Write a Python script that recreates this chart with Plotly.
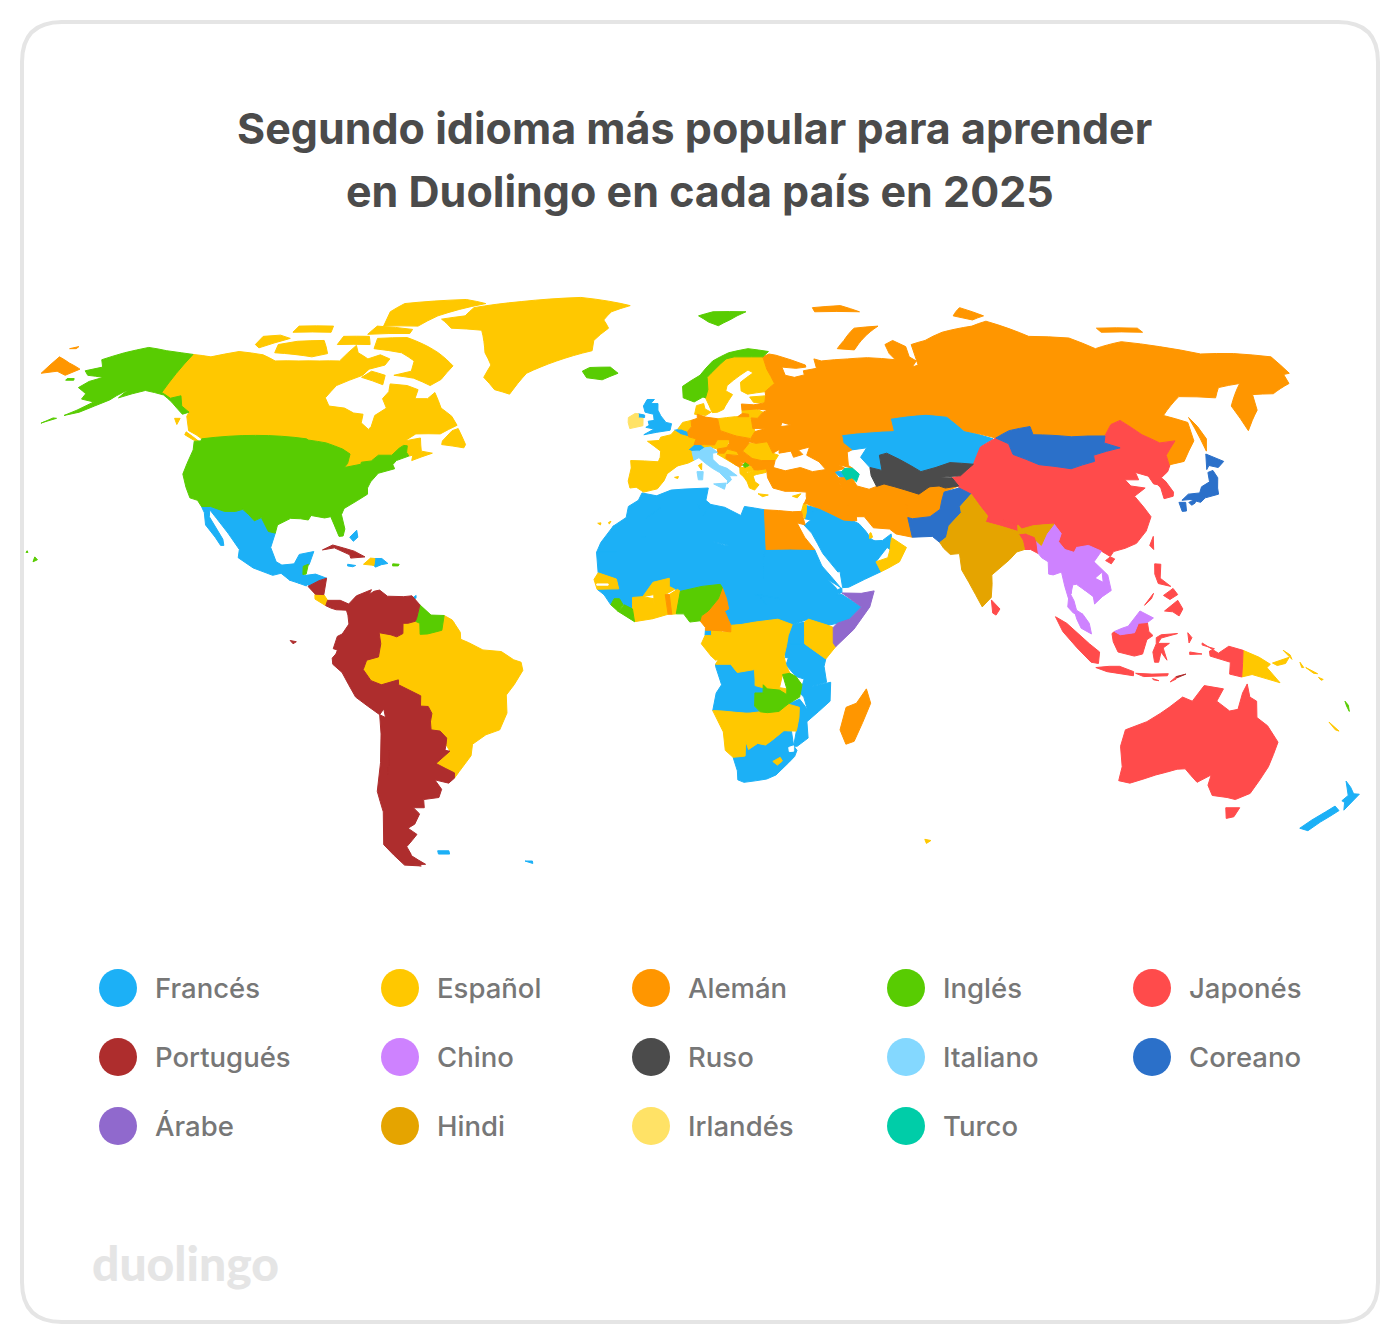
import plotly.graph_objects as go

title_lines = ["Segundo idioma más popular para aprender", "en Duolingo en cada país en 2025"]
languages = ["Francés", "Español", "Alemán", "Inglés", "Japonés",
             "Portugués", "Chino", "Ruso", "Italiano", "Coreano",
             "Árabe", "Hindi", "Irlandés", "Turco"]
colors = ["#1CB0F6", "#FFC800", "#FF9600", "#58CC02", "#FF4B4B",
          "#AE2D2D", "#CE82FF", "#4B4B4B", "#84D8FF", "#2B70C9",
          "#9069CD", "#E5A400", "#FFE266", "#00CDA8"]

frances = ["MEX", "GTM", "HND", "SLV", "DOM", "JAM", "BHS", "TTO", "GBR", "BEL", "CHE", "ARM", "KAZ",
           "SAU", "YEM", "ARE", "JOR", "MAR", "DZA", "TUN", "LBY", "MRT", "MLI", "NER", "TCD", "SDN",
           "SSD", "ERI", "DJI", "ETH", "CAF", "UGA", "TZA", "RWA", "BDI", "MWI", "MOZ", "AGO", "ZAF",
           "GIN", "GNB", "GNQ", "NZL", "FLK"]
espanol = ["CAN", "GRL", "BRA", "FRA", "ESP", "PRT", "DNK", "NLD", "SWE", "FIN", "POL", "LTU", "EST",
           "AUT", "HRV", "ROU", "GRC", "ALB", "MKD", "CYP", "OMN", "QAT", "ISR", "SEN", "CIV", "BFA",
           "GHA", "BEN", "COD", "COG", "GAB", "KEN", "ZWE", "BWA", "NAM", "LSO", "HTI", "CRI", "PNG",
           "SLB", "NCL"]
aleman = ["RUS", "DEU", "CZE", "SVK", "HUN", "LVA", "BLR", "UKR", "MDA", "SRB", "BIH", "MNE", "BGR",
          "SVN", "TUR", "GEO", "IRN", "IRQ", "SYR", "LBN", "KWT", "AFG", "EGY", "CMR", "TGO", "MDG"]
ingles = ["USA", "NOR", "ISL", "NGA", "LBR", "SLE", "ZMB", "GUY", "SUR", "BLZ", "PRI", "XKX", "VUT"]
japones = ["CHN", "TWN", "PRK", "KOR", "IDN", "PHL", "AUS", "BGD", "NPL", "BTN", "LKA"]
portugues = ["COL", "VEN", "ECU", "PER", "BOL", "PRY", "CHL", "ARG", "URY", "CUB", "NIC", "PAN", "TLS"]
chino = ["MMR", "THA", "LAO", "VNM", "KHM", "MYS"]
ruso = ["UZB", "TKM", "KGZ", "TJK"]
italiano = ["ITA"]
coreano = ["MNG", "JPN", "PAK"]
arabe = ["SOM"]
hindi = ["IND"]
irlandes = ["IRL"]
turco = ["AZE"]
by_language = [frances, espanol, aleman, ingles, japones, portugues, chino, ruso,
               italiano, coreano, arabe, hindi, irlandes, turco]
# not coloured in the source map
sin_datos = ["SWZ", "GMB"]

# the cdn topojson can't be fetched here, so the countries are rough lon/lat outlines written by hand
outlines = {
    "USA": ["-124.7 48.4 -123 48.5 -123 49 -95.2 49 -94.6 48.7 -89.6 48 -84.8 46.5 -82.5 45.3 -82.5 43 -83.1 42 -79 42.8 -79 43.3 -76.5 43.6 -75 45 -71.5 45 -70 46.7 -69 47.4 -68 47.3 -67.8 45.7 -67 44.8 -70 43.7 -70.7 42.7 -70 41.7 -74 40.6 -75.5 38.5 -76 37 -75.7 35.5 -77.9 34 -81 32 -81.4 30.5 -80 27 -80.2 25.3 -81.2 25.2 -82.8 28 -84 30 -85.5 29.7 -89 30.3 -89.5 29.2 -91.5 29.5 -94 29.6 -97 28 -97.2 26 -99 26.4 -101.4 29.8 -103 29 -104.7 30.5 -106.5 31.8 -108.2 31.3 -111 31.3 -114.8 32.5 -117.1 32.5 -118.5 34 -120.6 34.6 -122.4 37.2 -124.3 40.4 -124.2 43 -124 46.3",
            "-141 69.6 -141 60.3 -137.5 58.9 -135 59.5 -133 57 -130 55.5 -131.5 55 -134 56.5 -136.5 58 -140 59.7 -146 60.8 -149 60 -152 59 -151 61 -153 59.5 -154 58.5 -157 57 -160 55.5 -163.5 54.7 -161 56 -158 58 -162 58.7 -162 60 -165.5 61.5 -164 63 -161 64 -166 64.5 -168 65.6 -164 66.5 -166.5 68.3 -162 70 -156.5 71.3 -150 70.5 -145 70",
            "-165 54 -168 53 -168.3 52.8 -166 54.1", "-171 63.3 -168.7 63.3 -169 63.7 -171 63.7",
            "-156 19 -155 19.5 -155.8 20.2", "-158.2 21.3 -157.7 21.3 -158 21.7"],
    "CAN": ["-141 69.6 -135 69 -128 70.3 -120 69.5 -115 68 -108 68 -102 68 -96 68 -94 71.8 -92 70 -88 68.5 -85 69.5 -81.5 68.5 -82 67 -86 66 -87 64.5 -93 62 -94.5 59 -92.5 57 -88 56.5 -85 55.3 -82.3 55 -82 52.9 -79.5 51.3 -79 52 -79 54.7 -76.5 56.5 -78.5 58.8 -77.5 60.5 -78 62.4 -73 62 -69.5 61 -69.5 58.8 -66 58.8 -64.5 60.3 -61.5 56.5 -58 54.5 -56 52.3 -60 50.2 -66.5 50.2 -69 48.5 -65 49.2 -64.5 47.5 -64 46 -61 45.5 -66 43.7 -66 45 -67 44.8 -67.8 45.7 -68 47.3 -69 47.4 -70 46.7 -71.5 45 -75 45 -76.5 43.6 -79 43.3 -79 42.8 -83.1 42 -82.5 43 -82.5 45.3 -84.8 46.5 -89.6 48 -94.6 48.7 -95.2 49 -123 49 -125 50 -127.5 51 -130 54.5 -130 55.5 -133 57 -135 59.5 -137.5 58.9 -141 60.3",
            "-80 73.7 -72 71.5 -68 70 -62 66.8 -64 63.5 -66.5 62 -72 63.8 -78 64.5 -73.5 65.5 -74 68 -79 70 -88 71 -89 73.5",
            "-117 70 -105 69 -101 69.8 -105 73 -113 72.8 -118 72", "-125 72 -123 71.2 -116 73.5 -120 74.3 -125 74",
            "-90 76.5 -79 76.5 -75 79 -62 82 -70 83 -90 82 -92 80", "-93 74.5 -80 74.7 -80 75.7 -92 76.5",
            "-117 75 -105 75 -106 76.5 -117 76.5", "-87 64 -80 62.2 -80.5 64.5 -85 65.5", "-100 72 -90 72 -92 74 -100 74",
            "-59 47.6 -53 46.8 -52.7 47.6 -55.5 51.5 -57 51 -59 48.5", "-128 50.7 -123.5 48.4 -125 48.7 -128 50", "-133 54 -131.5 54 -131.5 52.5"],
    "GRL": ["-73 78.2 -68 76 -58 75.5 -54 70 -51 67 -52 64 -48 61 -43.5 59.9 -40 65 -32 68 -22 70.5 -22 73 -18 76 -20 78 -18 80 -12 81.5 -30 83.5 -50 82.5 -65 81 -66 79"],
    "ISL": ["-24 65.5 -22 66.4 -16 66.5 -13.6 65 -18 63.4 -22.5 63.9"],
    "MEX": ["-117.1 32.5 -114.8 32.5 -111 31.3 -108.2 31.3 -106.5 31.8 -104.7 30.5 -103 29 -101.4 29.8 -99 26.4 -97.2 26 -97.8 22.5 -96 19 -94.5 18.2 -91.5 18.5 -90.5 20.8 -87 21.5 -87.8 18.3 -89 17.9 -91 17.8 -91 16.2 -92.2 14.5 -94.5 16.2 -96.5 15.7 -101.5 17.5 -105.5 20 -105.5 22 -109 26 -112.5 29.5 -114.8 31.7 -114.5 30 -112 27 -110 24.5 -109.5 23 -110.3 23 -112 25 -115 28 -116 31"],
    "GTM": ["-92.2 14.5 -91 16.2 -91 17.8 -89.2 17.8 -89 15.8 -88.3 15.7 -89.2 14.5 -90 13.8"],
    "BLZ": ["-89.2 17.9 -88 18.4 -88.3 16 -89.1 15.9"],
    "HND": ["-89.2 14.5 -88.3 15.7 -86 16 -83.2 15 -84.5 14.6 -87 13 -87.6 13.3"],
    "SLV": ["-90 13.8 -89.2 14.5 -87.7 13.8 -88 13.1"],
    "NIC": ["-87.6 13 -85 14.4 -83.2 15 -83.6 11 -85.7 11.1"],
    "CRI": ["-85.8 11 -83.6 11 -82.6 9.6 -83 8.3 -85.7 9.9"],
    "PAN": ["-83 8.3 -82.6 9.6 -79.5 9.6 -77.4 8.7 -77.9 7.2 -80.4 7.3 -81.7 7.7"],
    "CUB": ["-84.9 21.9 -82.5 23.1 -77 21.6 -74.2 20.2 -77.7 19.9 -78 20.7 -82 22.4"],
    "JAM": ["-78.3 18.4 -76.3 18.1 -77 17.8 -78.3 18"],
    "HTI": ["-74.4 18.4 -72.8 19.9 -71.7 19.8 -71.8 18.1 -72.5 18.2"],
    "DOM": ["-71.7 19.8 -70 19.8 -68.4 18.6 -70 18.3 -71.4 17.7 -71.8 18.1"],
    "PRI": ["-67.2 18.5 -65.6 18.4 -65.8 18 -67.2 18"],
    "BHS": ["-78.5 25 -77 26.7 -76.5 25 -77.5 24"],
    "TTO": ["-61.9 10.1 -61 10.8 -61 10.1"],
    "COL": ["-77.9 7.2 -77.4 8.7 -75.6 10.7 -72 12.2 -72.5 11 -72.9 9.5 -72.4 8 -71 7 -67.5 6.2 -67.8 2.8 -67 1.2 -69.8 1.7 -69.4 -1 -70 -4.2 -70.9 -2.5 -73.2 -2 -75.3 -0.2 -77.5 0.4 -78.8 1.4 -77.2 3.8 -77.5 6"],
    "VEN": ["-72.5 11 -71.4 11.8 -70 12.1 -68 10.6 -64 10.5 -62 10.7 -60 8.5 -60.7 5.2 -61 4.5 -62.8 4 -64 4 -64 1.5 -65.5 0.7 -67 1.2 -67.8 2.8 -67.5 6.2 -71 7 -72.4 8 -72.9 9.5"],
    "GUY": ["-60 8.5 -57.2 6 -57.3 5 -58 1.4 -59.8 1.3 -59.9 4 -61 4.5 -60.7 5.2"],
    "SUR": ["-57.2 6 -54 5.9 -54.5 2.3 -56 1.9 -58 1.4 -57.3 5"],
    "BRA": ["-51.6 4.2 -50 1.8 -49.9 0.1 -48 -0.7 -44.5 -2.5 -40 -2.9 -37 -4.9 -35.2 -5.5 -34.8 -7.5 -37 -11 -39 -13.5 -39 -17.9 -41 -22 -44.5 -23.2 -48 -25.5 -48.6 -28.3 -52 -32.2 -53.4 -33.8 -53.2 -32.5 -57.6 -30.2 -53.8 -27.2 -54.6 -25.6 -54.3 -24 -55.4 -24 -55.8 -22.3 -58 -22 -58 -20 -57.5 -18 -58.3 -16.3 -60.2 -16.2 -60 -13.7 -65.3 -11 -65.3 -9.8 -69.5 -11 -72 -10 -73.8 -7.3 -72.9 -5 -70 -4.2 -69.4 -1 -69.8 1.7 -67 1.2 -65.5 0.7 -64 1.5 -64 4 -62.8 4 -61 4.5 -59.9 4 -59.8 1.3 -58 1.4 -56 1.9 -54.5 2.3 -52.7 2.3"],
    "ECU": ["-78.8 1.4 -77.5 0.4 -75.3 -0.2 -75.5 -1.5 -78.3 -3.4 -79 -5 -80.3 -3.4 -80 -2.5 -81 -2.2 -80 0.8", "-91.5 -0.2 -90 -0.5 -90.8 -1"],
    "PER": ["-81.3 -4.5 -80.3 -3.4 -79 -5 -78.3 -3.4 -75.5 -1.5 -75.3 -0.2 -73.2 -2 -70.9 -2.5 -70 -4.2 -72.9 -5 -73.8 -7.3 -72 -10 -69.5 -11 -69 -12.5 -69.5 -15.5 -69 -16.5 -70.4 -18.3 -76 -14 -79 -8 -81.2 -6"],
    "BOL": ["-69.5 -11 -65.3 -9.8 -65.3 -11 -60 -13.7 -60.2 -16.2 -58.3 -16.3 -57.5 -18 -58 -20 -62.3 -22 -67 -23 -69 -19 -69.5 -15.5"],
    "PRY": ["-58 -20 -58 -22 -55.8 -22.3 -54.3 -24 -54.6 -25.6 -55 -27 -58.6 -27.2 -58 -24.5 -62.3 -22"],
    "CHL": ["-70.4 -18.3 -69 -19 -67 -23 -69 -27 -70 -33 -71.2 -38 -71.7 -45 -72.5 -50 -68.4 -52.3 -68.6 -54.9 -66.5 -55.2 -71 -55 -75 -50 -73 -42 -73.5 -37 -71.5 -30 -70.5 -23"],
    "ARG": ["-67 -23 -62.3 -22 -58 -24.5 -58.6 -27.2 -55 -27 -53.8 -27.2 -57.6 -30.2 -58.2 -33 -58.4 -34.2 -57 -36.5 -58 -38.5 -62 -39 -62.2 -41 -65 -41 -63.7 -42.5 -65.5 -45 -67.5 -46 -65.5 -47.5 -69 -50.5 -68.4 -52.3 -72.5 -50 -71.7 -45 -71.2 -38 -70 -33 -69 -27", "-68.4 -52.7 -65.2 -54.8 -68.6 -54.9"],
    "URY": ["-58.2 -33 -57.6 -30.2 -53.2 -32.5 -53.4 -33.8 -55 -35 -58.4 -34.2"],
    "FLK": ["-61 -51.5 -58 -51.5 -58 -52.3 -61 -52.3", "-38 -54 -36 -54 -36 -54.6"],
    "RUS": ["28 59.5 28 60.5 31 62.5 29.5 66 29 69 31 69.7 33 69.4 41 67 41 66.5 38 66.2 34 66.5 34.5 64.5 37 64 40 64.6 40 65.6 44 66.2 44 68.5 46 68 54 68.5 60 68.8 68 68.3 67 69.8 67 72 70 73 73 71.5 72.5 69 74 68 72 66.5 74 67 75 72 80 73 87 75 98 76.5 104 77.7 113 74 125 73.6 130 71 140 72.7 150 71.5 160 69.7 170 69.8 180 69 180 65 178 64.7 177 62.5 170 60 164 59.8 162 56 156 51 155.7 57 163 62.5 156 61.5 153 59 143 59.3 135.5 54.7 141 53 140 48.5 135 43.5 131 42.7 130.7 42.3 131 45 135 48.5 130.7 48 127 50 123 53.5 120 52.5 117 49.7 108 49.5 98 50 98 52 92 51 87.8 49.2 80 51 76.5 54.5 71 55 61 54 61 51 55 50.7 47 50 47 48 49 46.3 47.7 45.7 47.5 42.5 48.5 41.8 45 42.7 40 43.4 37 45 38 47 40 48 40 49.6 35 50.5 34 52.3 31.5 53 32.5 54 31 55.5 28 56 27.5 57.8",
            "-180 69 -175 67.5 -170 66 -172.5 64.5 -176 65.5 -180 65", "142 54.2 143 52 143.6 49 142 46 142 49", "52 71 57 70.7 68 76.5 60 76 55 73",
            "95 79 100 78 105 79 100 81", "137 75 150 75 150 76 137 76", "-180 71 -178 71.5 -178 71", "50 80 65 80 60 81.5 50 81", "19.7 54.4 22.7 54.4 22.7 55 21 55.2"],
    "KAZ": ["47 50 55 50.7 61 51 61 54 71 55 76.5 54.5 80 51 87 49 83 47 80 42.8 74 43.2 70 42 66 41 61 44 58 45.5 56 45 56 41.3 53 42 51 44.5 53 46.8 49 46.3 47 48"],
    "UZB": ["56 45 58 45.5 61 44 66 41 70 42 71 40.5 67.5 37.3 64 39 61 41 56 41.3"],
    "TKM": ["53 42 56 41.3 61 41 64 39 67.5 37.3 64.5 35.5 61 36.6 56 38 54 37.4 53 40"],
    "KGZ": ["70 42 74 43.2 80 42.8 76 40 70 39.5 71 40.5"],
    "TJK": ["67.5 37.3 71 40.5 70 39.5 73.7 39.5 75 37.5 71.5 37 70 37.5"],
    "AFG": ["61 36.6 64.5 35.5 67.5 37.3 70 37.5 71.5 37 75 37.5 71 36 70 33.8 69.3 31.8 66.5 30 62 29.5 60.9 29.8 61 33.5"],
    "IRN": ["44.5 39.5 48 39.5 49 37.5 52 36.7 54 37.4 56 38 61 36.6 61 33.5 60.9 29.8 63 27 61.5 25 57.5 25.8 56 27 52 27.3 50 30 48.5 30 46 33 46 35 45 36.5"],
    "IRQ": ["44.8 37.2 46 35 46 33 48.5 30 47.8 30 47 29 44.7 29.2 39 32 41 34.5 41.3 36.6"],
    "SYR": ["36 36.8 41.3 36.6 41 34.5 39 32 36 33 35.8 35"],
    "LBN": ["35.1 33.1 36 33.3 36.6 34.4 35.9 34.6"],
    "TUR": ["26.2 41.7 28 42 31 41.2 35 42 38 41 41.5 41.5 43.6 41 44.5 39.5 44.8 37.2 41.3 36.6 36 36.8 36 36 33 36.2 30.5 36.2 27.5 37 26.3 39.5"],
    "GEO": ["40 43.4 45 42.7 46.5 41.8 43.6 41 41.5 41.5"],
    "ARM": ["43.6 41 45.5 41 46.5 39 44.8 39.8"],
    "AZE": ["46.5 41.8 48.5 41.8 50 40.4 49 38.5 48 39.5 46.5 39 45.5 41"],
    "PRT": ["-9 37 -7.4 37.2 -7 39 -6.6 41.9 -8.8 41.9 -9.5 38.7"],
    "ESP": ["-9 43.7 -1.8 43.4 3.2 42.4 0.5 40.5 -0.3 38.8 -2 36.8 -5.5 36 -7.4 37.2 -7 39 -6.6 41.9 -8.8 41.9", "2.4 39.6 3.4 39.8 3.2 39.3", "-16.9 28.4 -16.1 28.5 -16.2 28", "-14.2 28.6 -13.6 28.9 -14 28.2"],
    "FRA": ["-1.8 43.4 3.2 42.4 6 43.1 7.5 43.8 7 45.9 6 46.3 7.6 47.6 8.2 49 6.2 49.5 4.2 50 2.5 51 1.5 50 -1.2 49.4 -1.6 48.6 -4.7 48.4 -1.2 46 -1.3 44.5", "8.6 42.5 9.5 43 9.4 41.4", "-54 5.9 -52 4.8 -51.6 4.2 -52.7 2.3 -54.5 2.3", "68.8 -48.7 70.5 -49 69.5 -49.7"],
    "BEL": ["2.5 51.1 4.3 51.4 6 50.8 6.2 49.5 4.2 50"],
    "NLD": ["3.4 51.4 4.7 53 7 53.5 7.1 52 6 50.8 4.3 51.4"],
    "DEU": ["6 50.8 7.1 52 7 53.5 8.7 54 8.7 55 11 54.3 14.2 53.9 14.7 51 12.2 50.3 13.8 48.8 13 47.5 7.6 47.6 8.2 49 6.2 49.5"],
    "CHE": ["6 46.3 7.6 47.6 9.6 47.5 10.4 46.8 9 46 8 46"],
    "ITA": ["7.5 43.8 8.8 44.4 10.5 43 12.2 41.8 14 40.8 16 38.8 15.8 38 17 39 16.5 40 18.5 40 16 41.8 14 42.5 12.4 44 12.4 45.5 13.7 45.7 12 47 10.4 46.8 9 46 8 46 7 45.9", "12.4 38 15.6 38.2 15.1 36.7", "8.2 41 9.8 41 9.6 39 8.5 39"],
    "AUT": ["9.6 47.5 13 47.5 13.8 48.8 17 48.8 16.2 46.9 13.7 46.5 12 47 10.4 46.8"],
    "CZE": ["12.2 50.3 14.7 51 18.8 49.7 17 48.8 13.8 48.8"],
    "POL": ["14.2 53.9 19 54.4 23 54.4 24 50.8 22.7 49.1 18.8 49.7 14.7 51"],
    "LTU": ["21 56 25 56.3 26.7 55.5 25 54 23.3 54.1 21 55.2"],
    "LVA": ["21 57.5 24.4 57.3 27.5 57.8 28 56 25 56.3 21 56"],
    "EST": ["23.5 59.2 28 59.5 27.5 57.8 24.4 57.9"],
    "DNK": ["8 55 8.6 57.1 10.6 57.6 10.9 56.3 12.5 55.5 11 54.7 9.5 54.9"],
    "NOR": ["5 59 4.9 61.8 10 64.5 14 68 19 70 25 71 31 70.3 29 69 25.7 69 20.5 69 18 68.5 14.5 66 12 64 12 61 11.2 59 10.5 59.2 8 58", "11 79 16 80 27 80 21 78 17 76.6 14 77.5"],
    "SWE": ["11.2 59 12 61 12 64 14.5 66 18 68.5 20.5 69 23.7 67.5 24 65.8 21.5 64.5 17.5 62 17 60.7 18.8 59.8 16.5 57 16 56.2 14.3 55.5 12.8 55.4"],
    "FIN": ["20.5 69 25.7 69 29 69 29.5 66 31 62.5 28 60.5 23 59.9 21.3 60.7 21.4 62.8 25.4 65.1 24 65.8 23.7 67.5"],
    "GBR": ["-5.7 50 1.3 51.1 1.7 52.7 0.2 53 -1.2 54.6 -2 56 -2 57.6 -4 57.6 -3 58.6 -5 58.6 -6 57 -5.5 55.5 -3.2 55 -3 53.5 -4.6 53.3 -4.3 52.3 -5.2 51.8 -3 51.4", "-7.3 55.1 -5.6 54.8 -5.6 54.2 -7.3 54.1"],
    "IRL": ["-10 54.2 -8.2 55.2 -7.3 55.1 -7.3 54.1 -6 54 -6 52.2 -9.5 51.5 -10 53"],
    "BLR": ["23.5 51.5 23.3 54.1 25 54 26.7 55.5 28 56 31 55.5 32.5 54 31.5 53 31 52 27 51.5"],
    "UKR": ["24 50.8 22.7 49.1 22.1 48.3 24 47.9 27 48.3 30 46.4 29.8 45.5 33 46 33.5 44.5 36 45.2 35 46.3 38 47 40 48 40 49.6 35 50.5 34 52.3 31 52 27 51.5"],
    "MDA": ["27 48.3 29 47.8 30 46.4 28.2 45.5"],
    "ROU": ["22.1 48 24 47.9 27 48.3 28.2 45.5 29.6 45 28.6 43.7 25 43.7 22.7 44.2 20.3 46"],
    "HUN": ["16.2 46.9 17 48 22.1 48.3 22.1 47.9 20.3 46 18.8 45.9 16.3 46.5"],
    "SVK": ["17 48.8 18.8 49.7 22.5 49.1 22.1 48.3 17 48"],
    "SVN": ["13.7 46.5 16.2 46.9 16.3 46.5 15.5 45.5 13.7 45.5"],
    "HRV": ["13.6 45.3 15.5 45.8 16.3 46.5 18.8 45.9 19 45 16 45.2 15.8 44.3 18.5 42.5 15 44.5"],
    "BIH": ["16 45.2 19.3 44.9 19.3 43.5 18.5 42.5 15.8 44.3"],
    "SRB": ["18.8 45.9 20.3 46 22.7 44.2 22.4 42.4 20.8 43 19.3 43.5 19.3 44.9"],
    "MNE": ["18.5 42.5 19.3 43.5 20.2 42.8 19.3 42"],
    "ALB": ["19.3 42 20.6 42 21 40.6 20.2 39.7 19.3 40.5"],
    "MKD": ["20.6 42 22.4 42.3 23 41.3 21 40.9"],
    "BGR": ["22.7 44.2 25 43.7 28.6 43.7 28 42 26.2 41.7 24 41.4 23 41.4 22.4 42.4"],
    "GRC": ["20.2 39.7 21 40.6 23 41.3 26.2 41.7 26 40.8 23.5 40.3 22.6 40 23 38.5 24 37.8 22.8 36.5 21.5 37 21 38.5", "23.6 35.6 26.2 35.3 24.7 34.9"],
    "XKX": ["20.1 42.6 20.8 43.2 21.8 42.5 20.6 42"],
    "CYP": ["32.3 35 34.5 35.6 33.5 34.6"],
    "ISR": ["34.3 31.3 35 33.2 35.7 33 35.5 31 35 29.5"],
    "JOR": ["35 29.5 35.5 31 35.7 32.7 39 32 37 31 38 30 36.5 29.2"],
    "SAU": ["35 28.1 36.5 29.2 38 30 37 31 39 32 44.7 29.2 47 29 48.5 28.3 50 26.5 51.3 24.5 55 22.5 52 19 49 18.5 44 17.5 43 16.7 42.5 16.5 39 21 36.5 26 34.7 28"],
    "YEM": ["43 16.7 44 17.5 49 18.5 52 19 53.1 16.6 45 12.8 43.5 12.7"],
    "OMN": ["53.1 16.6 52 19 55 20 55.7 22 56.3 24.9 59.8 22.5 57.8 19 55 17.5"],
    "ARE": ["51.6 24.1 55 22.5 55.7 22 56.3 24.9 56.3 25.8 54 24.2"],
    "QAT": ["50.8 24.7 51.6 25 51.3 26.1 51 26"],
    "KWT": ["46.6 29.1 48 29 48 30 47.7 30"],
    "PAK": ["60.9 29.8 62 29.5 66.5 30 69.3 31.8 70 33.8 71 36 75 37 77.8 35.5 74.5 32.5 74.5 31 71 27.8 70 25 68.2 23.7 66.5 25.2 61.5 25"],
    "IND": ["68.2 23.7 70 25 71 27.8 74.5 31 74.5 32.5 77.8 35.5 79.5 32.5 81 30.2 80.2 28.7 88 26.4 88.2 28 89 27 92 27.8 97.3 28.2 95 25.8 93.3 23 92.3 24 92 25.1 89.8 26 88 25.8 88.8 24.2 89 22 87 21.4 85 19.5 80.3 15.8 80.2 13.5 79.8 10.3 77.5 8 76 11 73 17 72.8 21 70.5 20.8 69 22.3"],
    "BGD": ["88 25.8 89.8 26 92 25.1 92.3 24 92.3 21 90.5 22 89 22 88.8 24.2"],
    "NPL": ["80.2 28.7 81 30.2 88.2 28 88 26.4"],
    "BTN": ["89 27 92 27.8 92 26.8 89 26.8"],
    "LKA": ["79.8 9.7 81.8 7.5 80.8 6 80 6.5"],
    "CHN": ["73.7 39.5 75 37.5 75 37 77.8 35.5 79.5 32.5 81 30.2 88.2 28 89 27 92 27.8 97.3 28.2 98.7 25.9 97.7 23.9 99 22 101.2 21.3 102 22.5 105 23 108 21.6 110 20.3 111 21.5 114 22.3 117 23.5 120 26.5 122 30 120.8 32.3 119.2 35 122.5 37 119 37.5 118 39 121.5 39 121.3 40.8 124.3 39.9 128 41.5 130.7 42.3 131 45 135 48.5 130.7 48 127 50 123 53.5 120 52.5 117 49.7 116 48 119.7 46.8 112 45 111.7 43.5 105 41.7 97 42.7 91 45.2 90.7 47.8 87.8 49.2 83 47 80 42.8 76 40", "108.7 19.3 110 20.2 111 19.7 110 18.5"],
    "MNG": ["87.8 49.2 92 51 98 52 98 50 108 49.5 117 49.7 116 48 119.7 46.8 112 45 111.7 43.5 105 41.7 97 42.7 91 45.2 90.7 47.8"],
    "TWN": ["120.2 23 121.5 25.2 121 22"],
    "PRK": ["124.3 39.9 128 41.5 130.7 42.3 129.7 41 127.5 39.5 128.3 38.6 126 37.8 125 38"],
    "KOR": ["126 37.8 128.3 38.6 129.4 36 129 35 126.5 34.4 126.5 37"],
    "JPN": ["140 41.5 141.5 45.3 145.3 43.5 143.2 42 141 42.5", "130.9 34 133 35.5 136 35.8 137 37.3 139.5 38.5 140 40.8 141.5 41.3 142 39.5 141 37 140.7 35.5 137 34.6 135.5 33.5 133 34.2", "130 33.5 131.7 33.5 131.3 31.4 130.2 31.3", "132.5 33.5 134.6 34.2 134 33.3 133 32.8"],
    "MMR": ["92.3 21 92.3 24 93.3 23 95 25.8 97.3 28.2 98.7 25.9 97.7 23.9 99 22 101.2 21.3 100 20.3 97.8 18 98.5 15 99.5 11.5 98.7 10 98 13 97.5 16.5 95.4 15.8 94.3 16 94.5 19 93 20"],
    "THA": ["97.8 18 100 20.3 101 19.7 101.2 17.8 104.8 17.5 105.6 15 102.5 14 102.9 12 100.9 13.5 100 13.4 99.3 11 100 9.5 100.5 7.2 102 6.2 101 6 99.7 6.5 98.4 8 98.7 10 99.5 11.5 98.5 15"],
    "LAO": ["100 20.3 101.2 21.3 102 22.5 105 20 107.5 16.5 105.6 15 104.8 17.5 101.2 17.8 101 19.7"],
    "VNM": ["102 22.5 105 23 108 21.6 105.8 19 108.8 15.8 109.3 12 107 10.5 105 8.7 104.8 10.5 107.5 14 107.5 16.5 105 20"],
    "KHM": ["102.9 12 102.5 14 105.6 15 107.5 14 104.8 10.5"],
    "MYS": ["100.1 6.5 102 6.2 103.5 4 104 1.4 101.5 2.8 100.5 5", "109.6 2 111.5 2.8 113 3.3 116 7 119.2 5.3 117.7 4.2 115.5 4 114.5 1.7 111 1.2"],
    "IDN": ["95.3 5.6 98 4 103.5 -1 106 -3 105.8 -5.8 104 -5.5 100.5 -2 97 2", "105.2 -6.8 108.5 -6.5 111 -6.5 114.5 -7.8 114.5 -8.8 108 -7.8",
            "109 1.5 109.6 2 111 1.2 114.5 1.7 115.5 4 117.7 4.2 118 2 119 1 117.5 0 116.5 -3.5 114.5 -4 110.5 -3 109.3 -0.5",
            "119.8 0.5 121 1.2 125 1.5 121 0.4 120.2 -0.9 123 -0.9 121.5 -2 122.5 -5 121 -3 120.5 -5.5 119.5 -5.5 119 -3 119.8 -1",
            "131 -0.8 135 -3.3 137.5 -1.6 141 -2.6 141 -9.1 138 -8.4 138 -5.5 133 -4 132.8 -2.8 134 -2.2 131 -1.3",
            "123.6 -10.3 125 -9 125 -9.6", "115 -8.2 119 -8.4 123 -8.3 122.8 -8.8 117 -9", "127.5 1.7 128.5 0.5 127.8 -0.8", "128 -3 131 -3.5 128 -3.6", "119.2 -9.5 120.8 -10 119.5 -9.8"],
    "TLS": ["125 -9 127.3 -8.4 125.2 -9.3"],
    "PHL": ["120.4 16 120.7 18.5 122.2 18.4 121.6 15 124 13 121 13.7", "122 7 125.4 9.6 126.5 7.5 125.5 5.8 124 6.8", "122 10.8 124.5 12.5 125.5 11 123.5 9.8", "117.2 8.4 119.6 11.3 119 10"],
    "PNG": ["141 -2.6 145 -4.3 147.8 -6 147 -6.8 150.5 -10.5 147 -9.5 143.5 -8.5 141 -9.1", "148.3 -5.7 152.3 -4.3 151.5 -5.8 149.5 -6.3", "150.8 -2.6 153 -4.8 152.5 -3.7"],
    "SLB": ["155 -5.5 156 -6.8 155.5 -6.8", "156.5 -6.8 159.5 -8.3 158.5 -8.2", "159.8 -9.2 161 -9.7 160.5 -9.9"],
    "NCL": ["164 -20.1 167 -22.3 166 -22"],
    "VUT": ["167 -15 168 -16 168.5 -17.5 167.6 -16.2"],
    "AUS": ["114 -22 113.5 -26 115 -31 115 -34.4 118 -35 124 -33 129 -31.6 131 -31.5 135 -34.8 138 -33 138 -35.5 140 -38 144 -38.5 146.3 -39 149.5 -37.5 151.8 -31 152.5 -25 149 -21 146 -19 145.3 -15 143.5 -14 142.5 -10.8 141.6 -13 141 -17 139 -17.4 135.5 -15 136.8 -12 132 -11.2 129.5 -15 127 -14 124 -16.5 122 -18 119 -20", "144.7 -41 148.3 -41 147.8 -43.2 146 -43.6"],
    "NZL": ["172.7 -34.5 174.5 -36 176 -37.6 177.5 -37.7 176.5 -39.6 175.5 -41.6 174.7 -39.7 173.8 -39.3 174.8 -38", "172.7 -40.6 174.3 -41.7 171 -44.5 169 -46.6 166.5 -46 168.5 -44 171 -42"],
    "MAR": ["-5.9 35.8 -2.2 35.1 -1.2 32.2 -5 29.5 -8.7 27.3 -13 27.7 -13 23 -12 21.3 -17 21.3 -16 23.7 -13 27.7 -9.8 29.8 -9.3 32.5 -6.8 34"],
    "DZA": ["-2.2 35.1 1.5 36.5 8.6 36.9 8.3 33 9.5 30.2 11.5 24 6 19.5 3.2 19 -4.8 25 -8.7 27.3 -5 29.5 -1.2 32.2"],
    "TUN": ["8.6 36.9 11 37 10.3 34 11.5 33 9.5 30.2 8.3 33"],
    "LBY": ["11.5 33 15 32.3 19 30.3 20 32.5 25 31.7 25 22 24 19.5 16 23 11.5 24 9.5 30.2"],
    "EGY": ["25 31.7 32 31.2 34.3 31.3 35 28 33 28.5 34.7 25 37 22 25 22"],
    "MRT": ["-17 21.3 -12 21.3 -13 23 -13 27.7 -8.7 27.3 -4.8 25 -6 25 -5.5 15.5 -12 14.8 -16.5 16.3"],
    "MLI": ["-4.8 25 3.2 19 4.2 16 1 15 -3 14 -5.5 10.5 -8 10.3 -11.4 12.4 -12 14.8 -5.5 15.5 -6 25"],
    "NER": ["3.2 19 6 19.5 11.5 24 15 23 16 20 13.5 13.5 9 13 3.7 11.8 1 13 1 15 4.2 16"],
    "TCD": ["15 23 16 23 24 19.5 24 15 21.8 11 18.7 9 15.5 7.5 15 10 14 12.7 13.5 13.5 16 20"],
    "SDN": ["24 19.5 25 22 37 22 38.6 18 36.3 14.3 34.2 10.7 33 12 28 10 22.8 11 21.8 11 24 15"],
    "SSD": ["22.8 11 28 10 33 12 34.2 10.7 35 5 31 3.7 28 4.5 27.5 5 24.5 8.7"],
    "ERI": ["36.3 14.3 38.6 18 43 12.7 40 14.7 37 14.4"],
    "DJI": ["41.8 12 43.3 12.6 43.3 11.5 42 11"],
    "ETH": ["34.2 10.7 36.3 14.3 37 14.4 40 14.7 42 12.5 42 11 43.3 11 48 8 45 5 42 4 39.7 3.5 35 5"],
    "SOM": ["43.3 11.4 48 11.3 51.2 11.9 50 8 46 2.5 41.6 -1.7 41 -0.8 41 3 42 4 45 5 48 8"],
    "KEN": ["34 4.3 35 5 39.7 3.5 41 3 41 -0.8 41.6 -1.7 39.2 -4.7 34 -1 34 1"],
    "UGA": ["31 3.7 34 4.3 34 1 34 -1 30.5 -1 29.6 -1.4 30 1"],
    "TZA": ["30.5 -1 34 -1 39.2 -4.7 38.8 -6.5 39.5 -10.4 35 -11.6 34 -9.6 32 -9 29.5 -6.2 30.5 -3"],
    "RWA": ["29 -1.4 30.5 -1 30.8 -2.4 29.1 -2.7"],
    "BDI": ["29.1 -2.7 30.8 -2.4 30 -4.4 29.3 -4.4"],
    "COD": ["12.3 -6 13 -4.8 16 -4 16.7 -2 18 0.5 18.5 3.7 22 4.3 27.5 5 31 3.7 30 1 29.6 -1.4 29 -4 29.5 -6.2 30.5 -8.2 28.7 -8.5 28 -11.7 29.8 -12 29.8 -13.4 28 -12.3 25 -12 22 -11.2 22 -9.8 21.8 -7.3 17.6 -8 16 -6"],
    "CAF": ["14.5 7 15.5 7.5 18.7 9 21.8 11 22.8 11 24.5 8.7 27.5 5 22 4.3 18.5 3.7 16 3.5"],
    "COG": ["11.2 -4 12.3 -5 13 -4.8 16 -4 16.7 -2 18 0.5 18.5 3.7 16 3.5 16 1.9 14 1.9 13.3 2.2 14.3 -2 12 -2.4"],
    "GAB": ["9.7 1 11.3 1 11.3 2.3 13.3 2.2 14.3 -2 12 -2.4 11.2 -4 8.8 -1"],
    "GNQ": ["9.7 1 11.3 1 11.3 2.3 9.8 2.3"],
    "CMR": ["8.5 4.6 9.8 3 9.8 2.3 11.3 2.3 13.3 2.2 16 1.9 16 3.5 14.5 7 15.5 7.5 15 10 14 12.7 13 10 10.5 7 8.8 5.8"],
    "NGA": ["2.7 6.3 3.7 11.8 9 13 13.5 13.5 14 12.7 13 10 10.5 7 8.8 5.8 8.5 4.6 6 4.3 4.5 6.3"],
    "BEN": ["1.6 6.2 2.7 6.3 3.7 11.8 3 12.3 1 11"],
    "TGO": ["0.7 6.2 1.6 6.2 1 11 0 11"],
    "GHA": ["-3.1 5.1 0.7 6.2 0 11 -2.8 11 -2.7 8"],
    "CIV": ["-7.5 4.4 -3.1 5.1 -2.7 8 -2.8 10 -5.5 10.5 -8 10.3 -8 7.5"],
    "BFA": ["-5.5 10.5 -2.8 11 0 11 2.3 12.3 1 13 1 15 -3 14"],
    "LBR": ["-11.5 6.9 -7.5 4.4 -8 7.5 -10 8.5"],
    "SLE": ["-13.3 8.5 -11.5 6.9 -10.3 8.5 -11.2 10 -12.5 10"],
    "GIN": ["-15 11 -13.3 8.5 -12.5 10 -11.2 10 -10.3 8.5 -8 7.5 -8 10.3 -11.4 12.4 -13.7 12.7"],
    "GNB": ["-16.7 12.3 -13.7 12.7 -15 11"],
    "SEN": ["-17.5 14.7 -16.5 16.3 -12 14.8 -11.4 12.4 -16.7 12.3"],
    "GMB": ["-16.8 13.3 -14 13.3 -14 13.6 -16.8 13.6"],
    "AGO": ["12.3 -6 16 -6 17.6 -8 21.8 -7.3 22 -11.2 24 -11 24 -13 22 -13 22 -16.2 23.4 -17.6 21 -18 14 -17.4 11.7 -17.3 12.5 -13 13.8 -11 12.3 -6.5"],
    "ZMB": ["22 -13 24 -13 24 -11 25 -12 28 -12.3 29.8 -13.4 29.8 -12 28.7 -8.5 30.5 -8.2 32 -9 33.5 -11 33 -14 30.2 -15.7 28 -17.5 25.2 -17.8 23.4 -17.6 22 -16.2"],
    "MWI": ["34 -9.6 35 -11.6 35.8 -16 35 -17 34 -14 33 -13"],
    "MOZ": ["35 -11.6 40.5 -10.4 40.5 -15 35 -20 35.5 -24 32.9 -26 32 -26 32.5 -22.3 33 -19 30.3 -15.7 33 -14.5 35 -17 35.8 -16"],
    "ZWE": ["25.2 -17.8 28 -17.5 30.2 -15.7 33 -16.5 33 -19 32.5 -22.3 29.4 -22.2 26 -19"],
    "BWA": ["20 -18 23.4 -17.6 25.2 -17.8 26 -19 29.4 -22.2 26.5 -24.6 25 -25.7 23 -25.3 20.8 -26.8 20 -24.7 20 -22"],
    "NAM": ["11.7 -17.3 14 -17.4 21 -18 25.2 -17.8 23.4 -18.2 21 -18.3 21 -22 20 -22 20 -28.4 17 -28.7 15 -27 14.4 -22.5"],
    "ZAF": ["17 -28.7 20 -28.4 20 -24.7 20.8 -26.8 23 -25.3 25 -25.7 26.5 -24.6 29.4 -22.2 31.3 -22.4 32 -25.9 32.9 -27 32.4 -28.5 31 -30 28 -33 25.7 -34 20 -34.8 18.4 -34.2 18.2 -32"],
    "SWZ": ["30.8 -26.3 32 -25.9 32.1 -27.2 31 -27.3"],
    "LSO": ["27 -29.7 28.8 -28.7 29.4 -29.6 28.2 -30.6"],
    "MDG": ["49.3 -12 50.5 -15.5 47 -24.8 45 -25.5 43.3 -22 44.5 -16.5 47 -15.5"],
}


def clockwise(text):
    vals = [float(v) for v in text.split()]
    ring = [(vals[i], vals[i + 1]) for i in range(0, len(vals), 2)]
    area = sum(a[0] * b[1] - b[0] * a[1] for a, b in zip(ring, ring[1:] + ring[:1]))
    if area > 0:
        ring.reverse()
    return ring + ring[:1]


def country_trace(name, color, group):
    lons = []
    lats = []
    for code in group:
        for text in outlines[code]:
            for lon, lat in clockwise(text):
                lons.append(lon)
                lats.append(lat)
            lons.append(None)
            lats.append(None)
    return go.Scattergeo(lon=lons, lat=lats, mode="lines", fill="toself", fillcolor=color,
                         line=dict(color=color, width=1), name=name, hoverinfo="name")


fig = go.Figure()

# countries, one trace per language
for name, color, group in zip(languages, colors, by_language):
    fig.add_trace(country_trace(name, color, group))
fig.add_trace(country_trace("Sin datos", "white", sin_datos))

# legend dots, on a hidden axis that runs in page pixels
dot_x = [118, 400, 651, 906, 1152]
dot_y = [988, 1057, 1126]
legend_x = [dot_x[i % 5] for i in range(len(languages))]
legend_y = [dot_y[i // 5] for i in range(len(languages))]
fig.add_trace(go.Scatter(x=legend_x, y=legend_y, mode="markers",
                         marker=dict(size=38, color=colors), hoverinfo="skip"))

for name, x, y in zip(languages, legend_x, legend_y):
    fig.add_annotation(x=x + 35, y=y, text=name, xanchor="left", showarrow=False,
                       font=dict(family="Inter", size=27.5, color="#777777", weight=500))

for line, x, y in zip(title_lines, [694, 700], [128, 191]):
    fig.add_annotation(x=x, y=y, text=line, showarrow=False,
                       font=dict(family="Inter", size=43, color="#4B4B4B", weight=700))

fig.add_annotation(x=90, y=1262, text="duolingo", xanchor="left", showarrow=False,
                   font=dict(family="Lato", size=48, color="#E5E5E5", weight=900))

# card border
fig.add_shape(type="path", path="M 62 22 H 1338 Q 1378 22 1378 62 V 1282 Q 1378 1322 1338 1322 H 62 Q 22 1322 22 1282 V 62 Q 22 22 62 22 Z",
              line=dict(color="#E5E5E5", width=4), fillcolor="rgba(0,0,0,0)")

fig.update_geos(
    projection_type="eckert3",
    projection_scale=1.054,
    center=dict(lon=10.5, lat=14.1),
    lonaxis_range=[-180, 180],
    lataxis_range=[-90, 90],
    # the map clips to its fitted height around the domain centre, so keep that centre up near the map
    domain=dict(x=[0, 1], y=[0.146, 1]),
    bgcolor="rgba(0,0,0,0)",
    showframe=False,
    showcoastlines=False,
    showcountries=False,
    showland=False,
    showocean=False,
    showlakes=False,
    showrivers=False,
    showsubunits=False,
)
fig.update_layout(
    width=1400,
    height=1344,
    margin=dict(l=0, r=0, t=0, b=0),
    paper_bgcolor="white",
    plot_bgcolor="rgba(0,0,0,0)",
    showlegend=False,
    # the page has an 8px body margin, so the axes start at 8 to read as page pixels
    xaxis=dict(range=[8, 1408], visible=False),
    yaxis=dict(range=[1352, 8], visible=False),
)
fig.write_html("out.html")
